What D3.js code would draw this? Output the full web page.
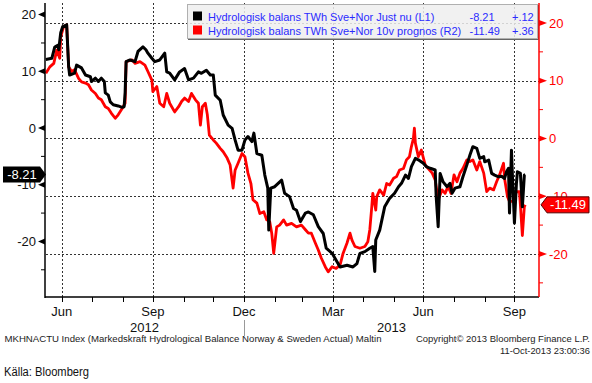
<!DOCTYPE html>
<html><head><meta charset="utf-8">
<script src="https://cdn.jsdelivr.net/npm/d3@7"></script>
<style>
body{margin:0;background:#fff}
svg{display:block}
text{font-family:"Liberation Sans",Arial,sans-serif}
</style>
</head><body>
<svg id="c" width="592" height="383"></svg>
<script>
// ---------- DATA ----------
const blackDates = ["2012-06-14","2012-06-20","2012-06-23","2012-06-26","2012-06-27","2012-06-29","2012-07-01","2012-07-05","2012-07-07","2012-07-08","2012-07-13","2012-07-15","2012-07-20","2012-07-24","2012-07-29","2012-07-30","2012-08-03","2012-08-06","2012-08-09","2012-08-12","2012-08-13","2012-08-16","2012-08-18","2012-08-21","2012-08-26","2012-08-30","2012-09-01","2012-09-02","2012-09-03","2012-09-07","2012-09-12","2012-09-15","2012-09-20","2012-09-23","2012-09-25","2012-09-29","2012-10-02","2012-10-07","2012-10-12","2012-10-14","2012-10-17","2012-10-22","2012-10-27","2012-11-01","2012-11-05","2012-11-10","2012-11-15","2012-11-18","2012-11-23","2012-11-27","2012-11-30","2012-12-02","2012-12-07","2012-12-10","2012-12-15","2012-12-19","2012-12-22","2012-12-25","2012-12-29","2013-01-01","2013-01-04","2013-01-08","2013-01-10","2013-01-13","2013-01-18","2013-01-21","2013-01-24","2013-01-25","2013-01-27","2013-01-31","2013-02-07","2013-02-10","2013-02-15","2013-02-19","2013-02-22","2013-02-26","2013-03-03","2013-03-06","2013-03-11","2013-03-16","2013-03-21","2013-03-24","2013-03-30","2013-04-03","2013-04-07","2013-04-14","2013-04-20","2013-04-24","2013-04-27","2013-05-02","2013-05-07","2013-05-10","2013-05-12","2013-05-13","2013-05-17","2013-05-22","2013-05-27","2013-06-01","2013-06-05","2013-06-08","2013-06-12","2013-06-15","2013-06-18","2013-06-22","2013-06-25","2013-06-30","2013-07-03","2013-07-07","2013-07-12","2013-07-13","2013-07-15","2013-07-17","2013-07-20","2013-07-24","2013-07-27","2013-07-29","2013-08-01","2013-08-06","2013-08-09","2013-08-13","2013-08-16","2013-08-19","2013-08-23","2013-08-26","2013-08-30","2013-08-31","2013-09-04","2013-09-07","2013-09-10","2013-09-14","2013-09-17","2013-09-20","2013-09-22","2013-09-24","2013-09-25","2013-09-27","2013-09-28","2013-09-30","2013-10-02","2013-10-03","2013-10-06","2013-10-08","2013-10-10","2013-10-11"];
const blackValues = [12.1,12.3,14.3,14.6,13.8,16.8,17.9,18.2,10.8,9.35,9.7,11.1,10.6,9.35,9.05,8.2,8.8,8.2,8.8,8.2,6.2,5.8,4.6,4.1,3.9,3.65,3.75,6.2,11.7,12.0,11.7,13.5,14.3,13.8,13.2,12.3,11.7,12.0,13.2,9.9,9.7,8.5,9.9,10.5,8.5,8.8,9.9,9.65,10.2,9.35,9.35,5.8,4.9,2.3,0.5,-0.05,-2.1,-3.9,-3.9,-2.1,-1.5,-2.4,-0.9,-4.5,-4.8,-8.3,-10.6,-18.0,-10.6,-10.35,-9.2,-11.5,-12.1,-14.2,-14.5,-16.5,-15.0,-14.8,-15.3,-17.4,-18.6,-21.2,-22.1,-23.3,-24.5,-24.2,-24.5,-23.9,-22.1,-21.8,-21.2,-20.9,-25.3,-19.75,-18.0,-13.9,-12.4,-11.5,-10.35,-9.75,-8.3,-8.9,-6.8,-5.35,-5.6,-6.2,-6.8,-7.1,-7.4,-12.1,-17.4,-8.0,-9.5,-10.35,-9.75,-11.5,-10.6,-10.35,-8.6,-6.5,-4.8,-3.3,-3.6,-5.35,-5.05,-5.95,-5.65,-8.0,-8.3,-8.6,-8.5,-8.9,-7.7,-7.1,-15.0,-3.9,-8.6,-16.8,-9.75,-7.7,-8.0,-13.9,-8.3,-8.21];

const redDates = ["2012-06-14","2012-06-18","2012-06-22","2012-06-25","2012-06-28","2012-06-29","2012-07-02","2012-07-05","2012-07-07","2012-07-10","2012-07-13","2012-07-17","2012-07-20","2012-07-24","2012-07-27","2012-07-30","2012-08-03","2012-08-06","2012-08-09","2012-08-13","2012-08-16","2012-08-19","2012-08-23","2012-08-26","2012-08-30","2012-09-02","2012-09-03","2012-09-09","2012-09-12","2012-09-17","2012-09-22","2012-09-25","2012-09-29","2012-09-30","2012-10-04","2012-10-07","2012-10-11","2012-10-14","2012-10-17","2012-10-22","2012-10-26","2012-10-29","2012-11-01","2012-11-05","2012-11-08","2012-11-12","2012-11-15","2012-11-17","2012-11-19","2012-11-22","2012-11-24","2012-11-26","2012-11-30","2012-12-03","2012-12-07","2012-12-10","2012-12-14","2012-12-17","2012-12-20","2012-12-22","2012-12-25","2012-12-29","2013-01-01","2013-01-04","2013-01-07","2013-01-09","2013-01-13","2013-01-16","2013-01-20","2013-01-23","2013-01-26","2013-01-28","2013-01-30","2013-02-02","2013-02-05","2013-02-09","2013-02-12","2013-02-17","2013-02-22","2013-02-27","2013-03-03","2013-03-06","2013-03-09","2013-03-13","2013-03-16","2013-03-19","2013-03-23","2013-03-26","2013-03-30","2013-04-03","2013-04-07","2013-04-10","2013-04-14","2013-04-17","2013-04-19","2013-04-22","2013-04-27","2013-05-02","2013-05-05","2013-05-07","2013-05-09","2013-05-10","2013-05-13","2013-05-14","2013-05-17","2013-05-21","2013-05-24","2013-05-27","2013-05-31","2013-06-03","2013-06-06","2013-06-10","2013-06-13","2013-06-16","2013-06-18","2013-06-20","2013-06-21","2013-06-22","2013-06-25","2013-06-28","2013-07-02","2013-07-05","2013-07-09","2013-07-12","2013-07-15","2013-07-19","2013-07-22","2013-07-25","2013-07-28","2013-07-31","2013-08-03","2013-08-06","2013-08-09","2013-08-13","2013-08-16","2013-08-19","2013-08-23","2013-08-26","2013-08-30","2013-09-02","2013-09-05","2013-09-09","2013-09-12","2013-09-15","2013-09-19","2013-09-20","2013-09-23","2013-09-25","2013-09-29","2013-10-02","2013-10-05","2013-10-06","2013-10-08","2013-10-10","2013-10-11"];
const redValues = [11.3,12.4,13.0,15.3,13.9,17.6,19.4,19.65,12.4,11.6,11.9,10.4,9.8,9.6,9.3,8.4,7.8,7.0,6.7,5.5,5.2,4.4,3.5,4.1,5.2,6.1,13.3,13.6,13.0,13.3,12.7,11.6,10.1,8.1,9.0,6.1,5.5,7.8,6.1,4.6,5.5,6.4,7.0,6.4,7.8,6.7,6.1,2.3,5.5,6.1,4.1,0.6,-0.26,-0.8,-1.7,-2.3,-3.4,-4.6,-8.6,-5.5,-4.3,-2.6,-3.2,-6.0,-7.8,-10.6,-11.2,-13.0,-12.7,-14.1,-14.4,-16.4,-19.9,-15.3,-15.0,-14.1,-15.0,-14.7,-15.3,-15.0,-15.8,-16.4,-16.4,-18.1,-19.3,-20.7,-22.2,-23.1,-22.2,-22.5,-21.9,-19.9,-18.1,-16.4,-17.6,-18.7,-19.0,-18.7,-17.9,-15.8,-11.8,-9.5,-12.4,-10.1,-8.9,-9.8,-7.8,-8.05,-6.9,-6.6,-5.45,-5.2,-3.7,-3.15,-1.4,0.0,1.8,-0.8,-3.15,-2.0,-4.6,-5.2,-6.0,-7.2,-10.6,-8.9,-9.5,-8.3,-9.5,-6.3,-7.5,-6.0,-5.2,-3.7,-4.0,-3.7,-5.45,-4.0,-6.0,-9.2,-8.6,-8.9,-7.5,-6.3,-4.3,-6.9,-10.1,-10.9,-10.9,-9.2,-9.2,-11.5,-16.8,-11.8,-11.49];

const leftTickValues = [20, 10, 0, -10, -20];
const rightTickValues = [20, 10, 0, -10, -20];
const minorTickValues = [15, 5, -5, -15, -25];
const quarterTickDates = ["2012-06-30","2012-09-30","2012-12-31","2013-03-31","2013-06-30","2013-09-30"];
const quarterTickLabels = ["Jun","Sep","Dec","Mar","Jun","Sep"];
const yearLabels = ["2012","2013"];
const yearBoundary = "2012-12-31";
const seriesNames = ["Hydrologisk balans TWh Sve+Nor Just nu (L1)","Hydrologisk balans TWh Sve+Nor 10v prognos (R2)"];
const lastValues = [-8.21, -11.49];
const lastLabels = ["-8.21","-11.49"];
const changeLabels = ["+.12","+.36"];
const xDomain = ["2012-06-13T03:00","2013-10-24T19:00"];
const leftDomain = [-29.8, 22.05];
const rightDomain = [-27.45, 23.46];
const footerLeft = "MKHNACTU Index (Markedskraft Hydrological Balance Norway & Sweden Actual) Maltin";
const footerRight1 = "Copyright\u00A9 2013 Bloomberg Finance L.P.";
const footerRight2 = "11-Oct-2013 23:00:36";
const sourceText = "K\u00E4lla: Bloomberg";

// ---------- CHART ----------
const W = 592, H = 383;
const L = 45, R = 539, T = 3, B = 297;
const svg = d3.select("#c");
svg.append("rect").attr("width", W).attr("height", H).attr("fill", "#fff");

const parseD = d3.utcParse("%Y-%m-%d");
const parseDT = d3.utcParse("%Y-%m-%dT%H:%M");
const x = d3.scaleUtc().domain(xDomain.map(parseDT)).range([L, R]);
const yL = d3.scaleLinear().domain(leftDomain).range([B, T]);
const yR = d3.scaleLinear().domain(rightDomain).range([B, T]);

const black = blackDates.map((d, i) => ({ date: parseD(d), v: blackValues[i] }));
const red = redDates.map((d, i) => ({ date: parseD(d), v: redValues[i] }));
const qDates = quarterTickDates.map(parseD);

// gridlines
const grid = svg.append("g").attr("stroke", "#333").attr("stroke-width", 1).attr("stroke-dasharray", "2,2");
grid.selectAll("line.h").data(rightTickValues).join("line")
  .attr("x1", L + 1).attr("x2", R)
  .attr("y1", d => Math.round(yR(d)) + 0.5).attr("y2", d => Math.round(yR(d)) + 0.5);
grid.selectAll("line.v").data(qDates).join("line")
  .attr("x1", d => Math.round(x(d)) + 0.5).attr("x2", d => Math.round(x(d)) + 0.5)
  .attr("y1", T).attr("y2", B);

// legend
const lg = svg.append("g");
lg.append("rect").attr("x", 187.5).attr("y", 4.5).attr("width", 350).attr("height", 34)
  .attr("fill", "#efefef").attr("fill-opacity", 0.85).attr("stroke", "#b0b0b0");
lg.append("path").attr("d", "M188,39.5H538.5V5").attr("fill", "none").attr("stroke", "#666").attr("stroke-width", 1);
const legColors = ["#000", "#ff0000"];
const legY = [20.5, 34.5];
seriesNames.forEach((n, i) => {
  lg.append("rect").attr("x", 193).attr("y", legY[i] - 9).attr("width", 9).attr("height", 9).attr("fill", legColors[i]);
  lg.append("text").attr("x", 208).attr("y", legY[i]).attr("font-size", 11).attr("fill", "#2b2bff").text(n);
  lg.append("text").attr("x", 469.5).attr("y", legY[i]).attr("font-size", 11).attr("fill", "#2b2bff").text(lastLabels[i]);
  lg.append("text").attr("x", 512).attr("y", legY[i]).attr("font-size", 11).attr("fill", "#2b2bff").text(changeLabels[i]);
});

// series
const lineR = d3.line().x(d => x(d.date)).y(d => yR(d.v));
const lineL = d3.line().x(d => x(d.date)).y(d => yL(d.v));
svg.append("path").datum(red).attr("d", lineR).attr("fill", "none")
  .attr("stroke", "#ff0000").attr("stroke-width", 2.8).attr("stroke-linejoin", "round");
svg.append("path").datum(black).attr("d", lineL).attr("fill", "none")
  .attr("stroke", "#000").attr("stroke-width", 3).attr("stroke-linejoin", "round");

// axes lines
svg.append("line").attr("x1", L).attr("x2", L).attr("y1", T).attr("y2", B + 1).attr("stroke", "#000").attr("stroke-width", 1.5);
svg.append("line").attr("x1", L).attr("x2", R).attr("y1", B).attr("y2", B).attr("stroke", "#000").attr("stroke-width", 1.5);
svg.append("line").attr("x1", R).attr("x2", R).attr("y1", T).attr("y2", B).attr("stroke", "#ff0000").attr("stroke-width", 1.5);

// left axis ticks & labels
const la = svg.append("g");
la.selectAll("path").data(leftTickValues).join("path")
  .attr("d", d => `M${L - 7},${yL(d)}L${L},${yL(d) - 3}L${L},${yL(d) + 3}Z`).attr("fill", "#000");
la.selectAll("line").data(minorTickValues).join("line")
  .attr("x1", L - 4).attr("x2", L).attr("y1", d => yL(d)).attr("y2", d => yL(d)).attr("stroke", "#000");
la.selectAll("text").data(leftTickValues).join("text")
  .attr("x", 36).attr("y", d => yL(d) + 4.7).attr("text-anchor", "end")
  .attr("font-size", 13).attr("fill", "#111").text(d => d);

// right axis ticks & labels
const ra = svg.append("g");
ra.selectAll("path").data(rightTickValues).join("path")
  .attr("d", d => `M${R + 8},${yR(d)}L${R},${yR(d) - 3}L${R},${yR(d) + 3}Z`).attr("fill", "#ff0000");
ra.selectAll("line").data(minorTickValues).join("line")
  .attr("x1", R).attr("x2", R + 4).attr("y1", d => yR(d)).attr("y2", d => yR(d)).attr("stroke", "#ff0000");
ra.selectAll("text").data(rightTickValues).join("text")
  .attr("x", 549).attr("y", d => yR(d) + 4.7)
  .attr("font-size", 13).attr("fill", "#ff0000").text(d => d);

// bottom axis ticks
const monthEnds = d3.utcMonth.range(parseD("2012-07-01"), parseD("2013-10-02")).map(d => d3.utcDay.offset(d, -1));
svg.append("g").selectAll("line").data(monthEnds).join("line")
  .attr("x1", d => Math.round(x(d)) + 0.5).attr("x2", d => Math.round(x(d)) + 0.5)
  .attr("y1", B).attr("y2", B + 5).attr("stroke", "#000");
svg.append("g").selectAll("text").data(qDates).join("text")
  .attr("x", d => x(d)).attr("y", 315.5).attr("text-anchor", "middle")
  .attr("font-size", 13).attr("fill", "#111").text((d, i) => quarterTickLabels[i]);
const yb = x(parseD(yearBoundary));
svg.append("line").attr("x1", Math.round(yb) + 0.5).attr("x2", Math.round(yb) + 0.5).attr("y1", 320).attr("y2", 336).attr("stroke", "#999");
svg.append("text").attr("x", (L + yb) / 2).attr("y", 331.5).attr("text-anchor", "middle").attr("font-size", 13).attr("fill", "#111").text(yearLabels[0]);
svg.append("text").attr("x", (yb + R) / 2).attr("y", 331.5).attr("text-anchor", "middle").attr("font-size", 13).attr("fill", "#111").text(yearLabels[1]);

// value tags
const tl = yL(lastValues[0]);
svg.append("path").attr("d", `M3,${tl - 8}H40L46,${tl}L40,${tl + 8}H3Z`).attr("fill", "#000");
svg.append("text").attr("x", 22).attr("y", tl + 4.5).attr("text-anchor", "middle").attr("font-size", 13).attr("fill", "#fff").text(lastLabels[0]);
const tr = yR(lastValues[1]);
svg.append("path").attr("d", `M541,${tr}L547,${tr - 8}H589V${tr + 8}H547Z`).attr("fill", "#ff0000").attr("stroke", "#500").attr("stroke-width", 1);
svg.append("text").attr("x", 568).attr("y", tr + 4.5).attr("text-anchor", "middle").attr("font-size", 13).attr("fill", "#fff").text(lastLabels[1]);

// footer
svg.append("text").attr("x", 4.5).attr("y", 342).attr("font-size", 8.5).attr("fill", "#222")
  .attr("textLength", 377).attr("lengthAdjust", "spacingAndGlyphs").text(footerLeft);
svg.append("text").attr("x", 416).attr("y", 342).attr("font-size", 8.5).attr("fill", "#222")
  .attr("textLength", 174).attr("lengthAdjust", "spacingAndGlyphs").text(footerRight1);
svg.append("text").attr("x", 500).attr("y", 354).attr("font-size", 8.5).attr("fill", "#222")
  .attr("textLength", 90).attr("lengthAdjust", "spacingAndGlyphs").text(footerRight2);
svg.append("text").attr("x", 4).attr("y", 376).attr("font-size", 12.5).attr("fill", "#111")
  .attr("textLength", 85).attr("lengthAdjust", "spacingAndGlyphs").text(sourceText);
</script>
</body></html>
